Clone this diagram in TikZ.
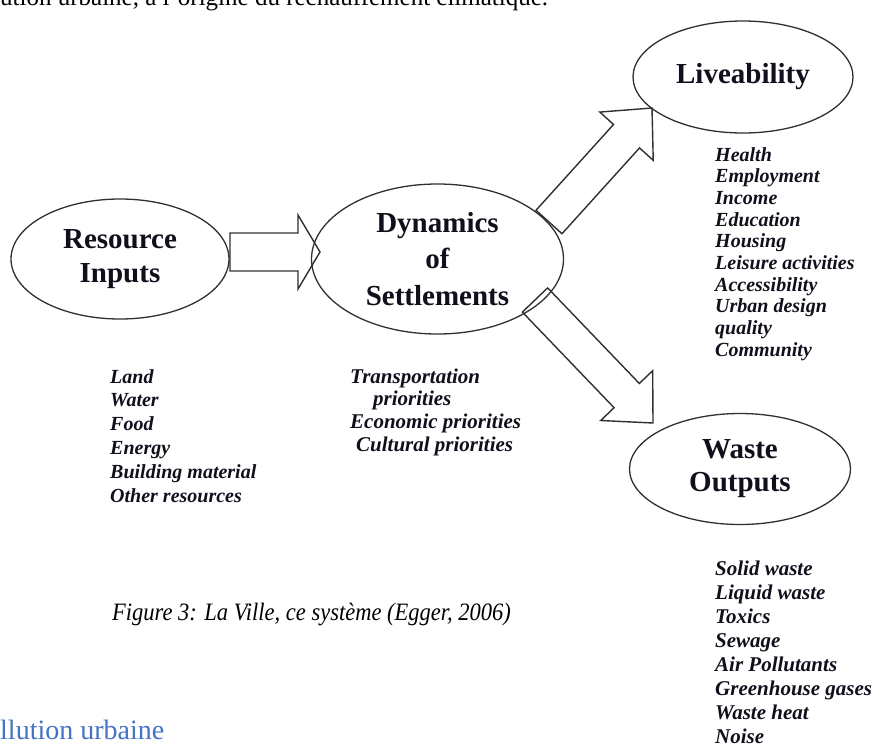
\documentclass[tikz,border=0pt]{standalone}
\usepackage{fontspec}
\setmainfont{Liberation Serif}
\usetikzlibrary{shapes.geometric,calc}

\definecolor{inkline}{HTML}{303030}
\definecolor{inktext}{HTML}{10101C}
\definecolor{headblue}{HTML}{4472C4}

\tikzset{
  bubble/.style={draw=inkline, line width=1.3pt, ellipse, inner sep=0pt,
    align=center, text=inktext, font=\fontsize{29}{34}\selectfont\bfseries},
  blockarrow/.style={draw=inkline, line width=1.4pt, line join=miter},
  itemlist/.style={anchor=base west, inner sep=0pt, text width=220pt,
    align=flush left, text=inktext,
    font=\fontsize{21}{24}\selectfont\bfseries\itshape},
  bodytext/.style={anchor=base west, inner sep=0pt, text=black}
}

% block arrow: #1 start, #2 tip, #3 half shaft width, #4 half head width, #5 head length
\newcommand\blockarrow[5]{%
  \coordinate (bahead) at ($(#2)!#5pt!(#1)$);
  \draw[blockarrow]
    ($(#1)!#3pt!90:(#2)$) -- ($(bahead)!#3pt!90:(#2)$) --
    ($(bahead)!#4pt!90:(#2)$) -- (#2) --
    ($(bahead)!#4pt!-90:(#2)$) -- ($(bahead)!#3pt!-90:(#2)$) --
    ($(#1)!#3pt!-90:(#2)$) -- cycle;
}

\begin{document}
\begin{tikzpicture}[x=1pt, y=-1pt]
  \fill[white] (0,0) rectangle (875,745);
  \useasboundingbox (0,0) rectangle (875,745);

  % running text of the page
  \node[bodytext, font=\fontsize{25}{29}\selectfont] (toptext) at (0,5)
    {ution urbaine, à l'origine du réchauffement climatique.};

  % the four parts of the system
  \node[bubble, minimum width=218pt, minimum height=120pt] (res) at (120,259)
    {Resource\\Inputs};
  \node[bubble, minimum width=252pt, minimum height=150pt,
        font=\fontsize{29}{36.5}\selectfont\bfseries] (dyn) at (437.5,259)
    {Dynamics\\of\\Settlements};
  \node[bubble, minimum width=220pt, minimum height=112pt] (live) at (743,77)
    {Liveability};
  \node[bubble, minimum width=221pt, minimum height=111pt,
        font=\fontsize{29}{33}\selectfont\bfseries] (waste) at (740,469)
    {Waste\\Outputs};

  % arrow ends
  \coordinate (resout) at (230,252);
  \coordinate (dynin) at (320,252);
  \coordinate (dynup) at (549,222);
  \coordinate (livein) at (652,108);
  \coordinate (dyndown) at (535,300);
  \coordinate (wastein) at (653,423);

  \blockarrow{resout}{dynin}{19}{37}{22}
  \blockarrow{dynup}{livein}{17.5}{36}{38}
  \blockarrow{dyndown}{wastein}{17.5}{36}{38}

  % item lists
  \node[itemlist, font=\fontsize{20}{23.8}\selectfont\bfseries\itshape] (reslist) at (110,383)
    {Land\\Water\\Food\\Energy\\Building material\\Other resources};
  \node[itemlist, font=\fontsize{21}{22.7}\selectfont\bfseries\itshape] (dynlist) at (350,383)
    {Transportation\\\hspace*{23pt}priorities\\Economic priorities\\\hspace*{6pt}Cultural priorities};
  \node[itemlist, font=\fontsize{20}{21.7}\selectfont\bfseries\itshape] (livelist) at (715,161)
    {Health\\Employment\\Income\\Education\\Housing\\Leisure activities\\Accessibility\\Urban design\\quality\\Community};
  \node[itemlist, font=\fontsize{21}{24}\selectfont\bfseries\itshape] (wastelist) at (715,575)
    {Solid waste\\Liquid waste\\Toxics\\Sewage\\Air Pollutants\\Greenhouse gases\\Waste heat\\Noise};

  % caption and next heading
  \node[bodytext, font=\fontsize{25}{29}\selectfont\itshape] (caption) at (112,620)
    {\scalebox{0.9}[1]{Figure 3: La Ville, ce système (Egger, 2006)}};
  \node[bodytext, text=headblue, font=\fontsize{28}{32}\selectfont] (heading) at (0,739)
    {llution urbaine};
\end{tikzpicture}
\end{document}
